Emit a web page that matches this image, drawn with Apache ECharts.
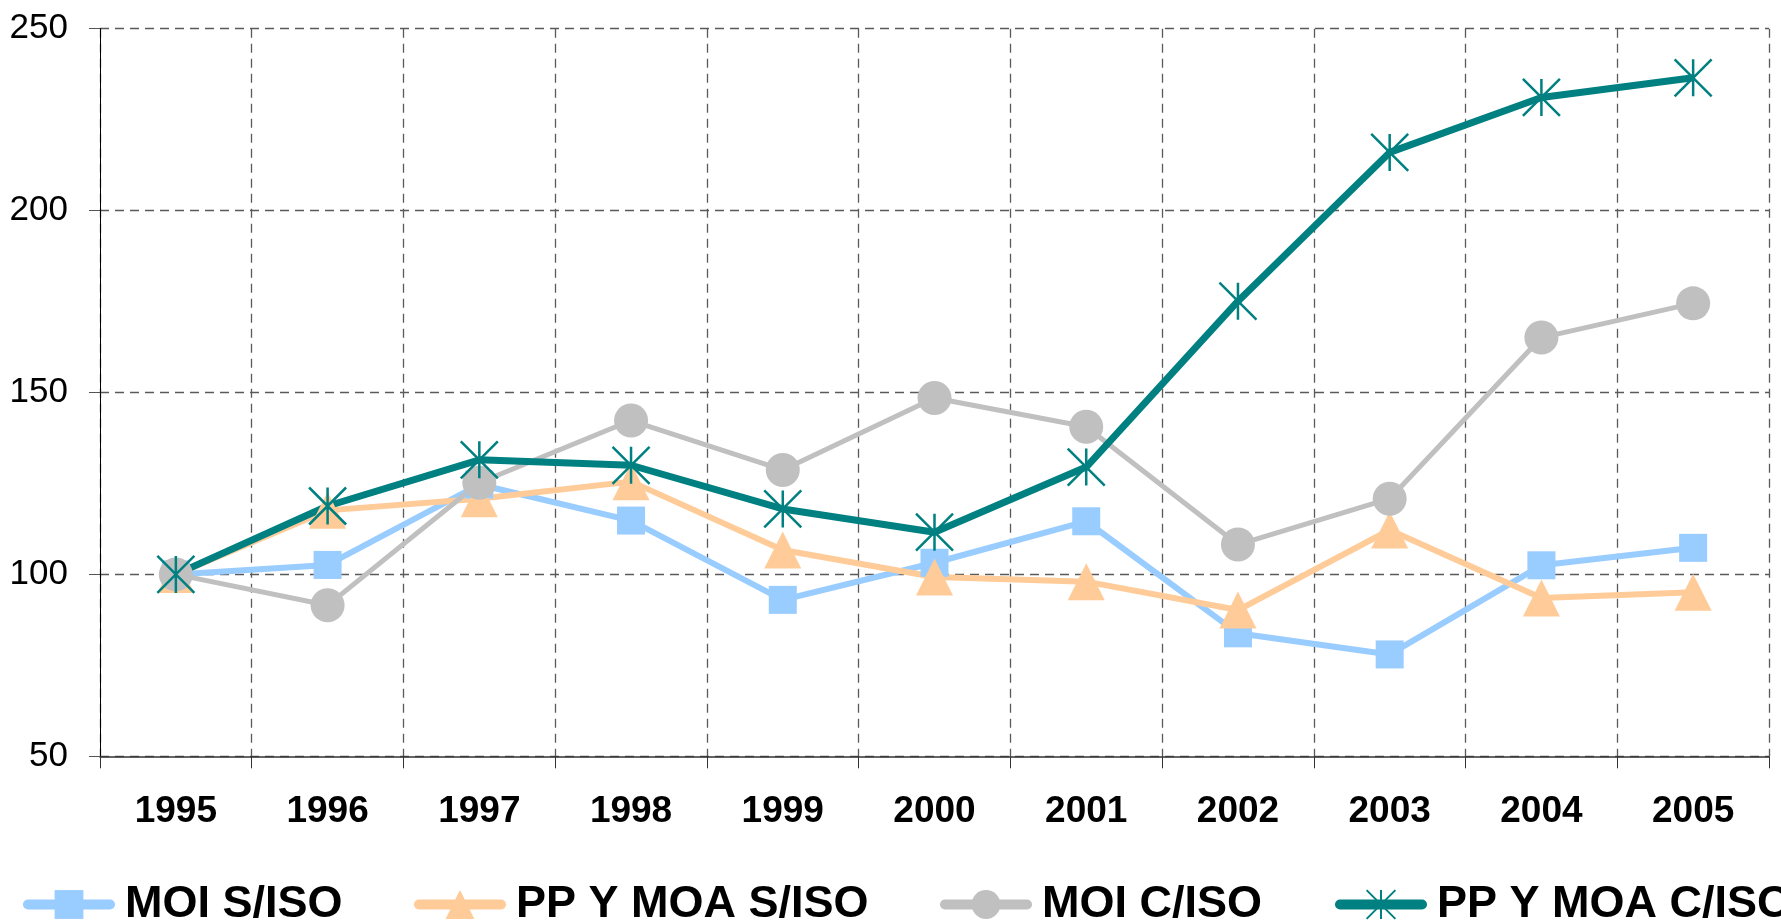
<!DOCTYPE html>
<html>
<head>
<meta charset="utf-8">
<script src="https://cdn.jsdelivr.net/npm/echarts@6/dist/echarts.min.js"></script>
<style>
html,body{margin:0;padding:0;background:#fff;}
#chart{width:1781px;height:922px;}
</style>
</head>
<body>
<div id="chart"></div>
<script>
const categories = ['1995','1996','1997','1998','1999','2000','2001','2002','2003','2004','2005'];
const seriesNames = ['MOI S/ISO','PP Y MOA S/ISO','MOI C/ISO','PP Y MOA C/ISO'];
const moiSIso   = [100, 102.6, 124.7, 114.8, 93, 103.2, 114.6, 83.8, 78, 102.5, 107.3];
const ppSIso    = [100, 117.6, 120.8, 125.5, 106.7, 99.3, 98, 90.2, 112.2, 93.5, 95.1];
const moiCIso   = [100, 91.5, 125.2, 142.3, 128.7, 148.5, 140.6, 108.2, 120.8, 165.1, 174.5];
const ppCIso    = [100, 118.8, 131.5, 130, 118, 111.6, 129.5, 175.1, 216, 231.1, 236.5];
const yTicks = {min: 50, max: 250, interval: 50};

const FONT = "'Liberation Sans', Arial, sans-serif";
const colors = ['#99CCFF', '#FFCC99', '#C0C0C0', '#008080'];
const starPath = 'path://M0,0 L20,20 M20,0 L0,20 M10,0 L10,20';

function mkSeries(name, data, color, symbol, size, width, extraItem) {
  return {
    name: name, type: 'line', data: data,
    symbol: symbol, symbolSize: size,
    lineStyle: {color: color, width: width},
    itemStyle: Object.assign({color: color, borderWidth: 0}, extraItem || {}),
    emphasis: {disabled: true},
    animation: false
  };
}

const legendLefts = [18, 409, 935, 1330];
const legends = seriesNames.map((n, i) => ({
  data: [n],
  left: legendLefts[i],
  top: 877,
  orient: 'horizontal',
  itemWidth: 82,
  itemHeight: 36,
  lineStyle: {width: 10, cap: 'round'},
  textStyle: {fontFamily: FONT, fontSize: 45, fontWeight: 'bold', color: '#000', lineHeight: 45, padding: [0,0,0,10]},
  selectedMode: false
}));

const gridDash = {type: [9,6], color: '#5a5a5a', width: 1.3};

const chart = echarts.init(document.getElementById('chart'), null, {renderer: 'canvas'});
chart.setOption({
  backgroundColor: '#fff',
  animation: false,
  grid: {left: 100, right: 12, top: 28.7, bottom: 165.7, containLabel: false},
  legend: legends,
  xAxis: {
    type: 'category',
    data: categories,
    boundaryGap: true,
    axisLine: {show: true, lineStyle: {color: '#333', width: 1.5}},
    axisTick: {show: true, length: 12, lineStyle: {color: '#333'}},
    splitLine: {show: true, lineStyle: gridDash},
    axisLabel: {margin: 37, fontFamily: FONT, fontSize: 37, fontWeight: 'bold', color: '#000'}
  },
  yAxis: {
    type: 'value',
    min: yTicks.min, max: yTicks.max, interval: yTicks.interval,
    axisLine: {show: true, lineStyle: {color: '#000', width: 1}},
    axisTick: {show: true, length: 11, lineStyle: {color: '#555'}},
    splitLine: {show: true, lineStyle: gridDash},
    axisLabel: {margin: 32, fontFamily: FONT, fontSize: 35, color: '#000'}
  },
  series: [
    mkSeries(seriesNames[0], moiSIso, colors[0], 'rect', 28, 6),
    mkSeries(seriesNames[1], ppSIso, colors[1], 'triangle', 37, 6),
    mkSeries(seriesNames[2], moiCIso, colors[2], 'circle', 34, 5),
    mkSeries(seriesNames[3], ppCIso, colors[3], starPath, 37, 7, {borderColor: colors[3], borderWidth: 2.5})
  ]
});
</script>
</body>
</html>
